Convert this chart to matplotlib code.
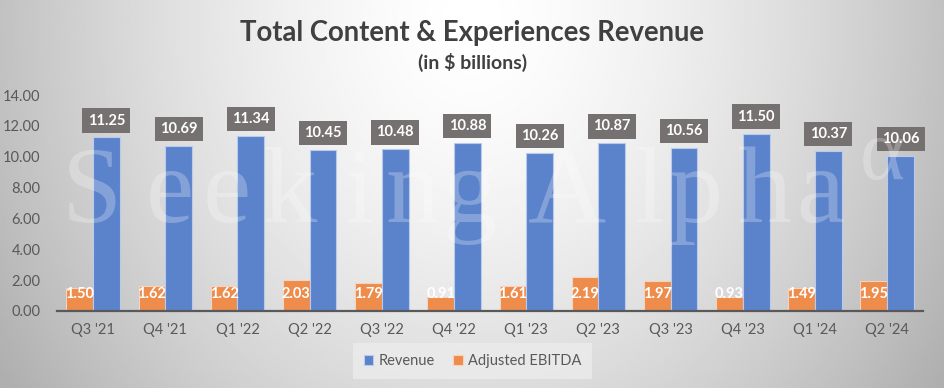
import matplotlib.pyplot as plt
import numpy as np

quarters = ["Q3 '21", "Q4 '21", "Q1 '22", "Q2 '22", "Q3 '22", "Q4 '22",
            "Q1 '23", "Q2 '23", "Q3 '23", "Q4 '23", "Q1 '24", "Q2 '24"]
revenue = [11.25, 10.69, 11.34, 10.45, 10.48, 10.88,
           10.26, 10.87, 10.56, 11.50, 10.37, 10.06]
ebitda = [1.50, 1.62, 1.62, 2.03, 1.79, 0.91,
          1.61, 2.19, 1.97, 0.93, 1.49, 1.95]

blue = "#5b83cc"
orange = "#ee8c4c"
txt = "#595959"
plt.rcParams["font.family"] = ["Lato", "DejaVu Sans"]

fig = plt.figure(figsize=(9.45, 3.88), dpi=100)

# background gradient (light centre, grey edges)
bg = fig.add_axes([0, 0, 1, 1])
xx, yy = np.meshgrid(np.linspace(-1, 1, 400), np.linspace(0, 1, 200))
r = np.sqrt(xx ** 2 + ((yy - 0.05) / 1.4) ** 2)
shade = 1.0 - 0.24 * np.clip(r, 0, 1.2) ** 1.5
bg.imshow(shade, cmap="gray", vmin=0, vmax=1, aspect="auto",
          extent=[0, 1, 0, 1], origin="upper")
bg.set_xlim(0, 1)
bg.set_ylim(0, 1)
bg.axis("off")

# faint "Seeking Alpha" watermark, letters spread out
wm_chars = list("SeekingAlpha")
wm_x = [92, 170, 227, 290, 360, 413, 470, 567, 650, 695, 765, 820]
for c, px in zip(wm_chars, wm_x):
    fig.text(px / 945, 1 - 222 / 388, c, ha="center", va="baseline",
             fontsize=78, family="Liberation Serif", color="white",
             alpha=0.25, zorder=3)
fig.text(882 / 945, 1 - 158 / 388, "\u03b1", ha="center", va="center",
         fontsize=62, family="Liberation Serif", color="white", alpha=0.25,
         zorder=3)

ax = fig.add_axes([0.0603, 0.1985, 0.9167, 0.5565])
ax.patch.set_alpha(0)

x = np.arange(len(quarters))
w = 0.37
ax.bar(x - w / 2, ebitda, w, color=orange, edgecolor="#f6d3bd", linewidth=0.8,
       label="Adjusted EBITDA", zorder=2)
ax.bar(x + w / 2, revenue, w, color=blue, edgecolor="#b9cbec", linewidth=0.8,
       label="Revenue", zorder=2)

for i in x:
    ax.text(i - w / 2, 1.1, f"{ebitda[i]:.2f}", ha="center", va="center",
            color="white", fontsize=10.5, fontweight="bold", zorder=4)
    ax.text(i + w / 2, revenue[i] + 1.1, f"{revenue[i]:.2f}", ha="center",
            va="center", color="white", fontsize=10.5, fontweight="bold",
            zorder=4,
            bbox=dict(boxstyle="square,pad=0.36", fc="#767171", ec="none"))

ax.set_xlim(-0.5, len(quarters) - 0.5)
ax.set_ylim(0, 14)
ax.set_yticks(np.arange(0, 15, 2))
ax.set_yticklabels([f"{v:.2f}" for v in np.arange(0, 15, 2)])
ax.set_xticks(x)
ax.set_xticklabels(quarters)
ax.tick_params(axis="both", length=0, colors=txt, labelsize=10.5)
ax.tick_params(axis="x", pad=9)
ax.tick_params(axis="y", pad=12)
for s in ["top", "right", "left"]:
    ax.spines[s].set_visible(False)
ax.spines["bottom"].set_color(txt)
ax.spines["bottom"].set_linewidth(1.6)
ax.spines["bottom"].set_zorder(5)

fig.text(0.5, 0.915, "Total Content & Experiences Revenue", ha="center",
         va="center", fontsize=19.8, fontweight="bold", color="#404040")
fig.text(0.5, 0.84, "(in $ billions)", ha="center", va="center", fontsize=14,
         fontweight="bold", color="#404040")

h, l = ax.get_legend_handles_labels()
leg = fig.legend(h[::-1], l[::-1], loc="center", bbox_to_anchor=(0.5, 0.069),
                 ncol=2, frameon=True, fontsize=10.5, handlelength=0.65,
                 handleheight=0.65, handletextpad=0.35, columnspacing=1.3,
                 borderpad=0.45)
leg.get_frame().set_facecolor("#ececec")
leg.get_frame().set_edgecolor("none")
leg.get_frame().set_alpha(0.8)
leg.get_frame().set_boxstyle("square")
for t in leg.get_texts():
    t.set_color(txt)

fig.savefig("out.png", dpi=100)
